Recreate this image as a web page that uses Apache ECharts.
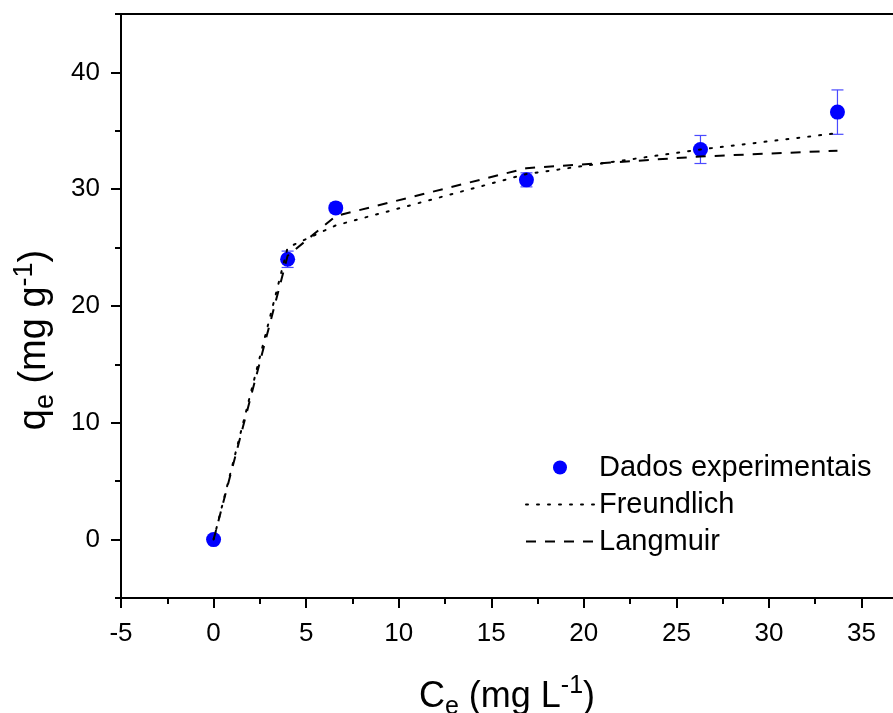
<!DOCTYPE html>
<html>
<head>
<meta charset="utf-8">
<script src="https://cdn.jsdelivr.net/npm/echarts@6/dist/echarts.min.js"></script>
<style>
  html, body { margin: 0; padding: 0; background: #fff; }
  #chart { width: 893px; height: 713px; }
</style>
</head>
<body>
<div id="chart"></div>
<script>
// dados
const ceVals = [0, 4.0, 6.6, 16.9, 26.3, 33.7]
const qeVals = [0, 24.0, 28.4, 30.8, 33.4, 36.6]
const qeErr = [0, 0.7, 0.4, 0.6, 1.2, 1.9]
const freundlich = [0, 25.0, 26.9, 31.3, 33.4, 34.8]
const langmuir = [0, 24.3, 27.7, 31.8, 32.8, 33.3]

const xMajor = [-5, 0, 5, 10, 15, 20, 25, 30, 35]
const xMinor = [-2.5, 2.5, 7.5, 12.5, 17.5, 22.5, 27.5, 32.5]
const yMajor = [0, 10, 20, 30, 40]
const yMinor = [-5, 5, 15, 25, 35, 45]

const FONT = 'Liberation Sans, Arial, sans-serif'
const pts = (xs, ys) => xs.map((x, i) => [x, ys[i]])

// texto com subscrito / sobrescrito
const makeRich = (size) => ({
  a: { fontSize: size, lineHeight: size + 10, verticalAlign: 'middle', fontFamily: FONT, color: '#000' },
  s: { fontSize: Math.round(size * 0.7), lineHeight: 16, verticalAlign: 'bottom', fontFamily: FONT, color: '#000' },
  p: { fontSize: Math.round(size * 0.7), lineHeight: 16, verticalAlign: 'top', fontFamily: FONT, color: '#000' },
})

const axisBase = {
  type: 'value',
  min: -5,
  gridIndex: 0,
  splitLine: { show: false },
}
const lineBlack = { color: '#000', width: 2 }

const dom = document.getElementById('chart')
const chart = echarts.init(dom)

const option = {
  animation: false,
  backgroundColor: '#fff',
  grid: { left: 121, right: 0, top: 14, bottom: 115, containLabel: false, outerBoundsMode: 'none' },
  legend: {
    data: [
      { name: 'Dados experimentais' },
      { name: 'Freundlich', itemStyle: { opacity: 0 } },
      { name: 'Langmuir', itemStyle: { opacity: 0 } },
    ],
    orient: 'vertical',
    left: 520,
    top: 448,
    itemWidth: 68,
    itemHeight: 14,
    itemGap: 8,
    textStyle: { fontSize: 29, fontFamily: FONT, color: '#000' },
  },
  xAxis: [
    {
      ...axisBase,
      max: 36.7,
      position: 'bottom',
      axisLine: { onZero: false, lineStyle: lineBlack },
      axisTick: { customValues: xMajor, length: 10, lineStyle: lineBlack },
      axisLabel: { customValues: xMajor, margin: 23, fontSize: 26, fontFamily: FONT, color: '#000' },
      name: '{a|C}{s|e}{a| (mg L}{p|-1}{a|)}',
      nameLocation: 'middle',
      nameGap: 76,
      nameTextStyle: { rich: makeRich(36) },
    },
    {
      ...axisBase,
      max: 36.7,
      position: 'bottom',
      axisLine: { show: false, onZero: false },
      axisTick: { customValues: xMinor, length: 6, lineStyle: lineBlack },
      axisLabel: { show: false },
    },
    {
      ...axisBase,
      max: 36.7,
      position: 'top',
      axisLine: { onZero: false, lineStyle: lineBlack },
      axisTick: { show: false },
      axisLabel: { show: false },
    },
  ],
  yAxis: [
    {
      ...axisBase,
      max: 45,
      position: 'left',
      axisLine: { onZero: false, lineStyle: lineBlack },
      axisTick: { customValues: yMajor, length: 10, lineStyle: lineBlack },
      axisLabel: { customValues: yMajor, margin: 21, fontSize: 26, fontFamily: FONT, color: '#000' },
      name: '{a|q}{s|e}{a| (mg g}{p|-1}{a|)}',
      nameLocation: 'middle',
      nameRotate: 90,
      nameGap: 62,
      nameTextStyle: { rich: makeRich(38), padding: [0, 68, 0, 0] },
    },
    {
      ...axisBase,
      max: 45,
      position: 'left',
      axisLine: { show: false, onZero: false },
      axisTick: { customValues: yMinor, length: 6, lineStyle: lineBlack },
      axisLabel: { show: false },
    },
  ],
  series: [
    {
      name: 'erro',
      type: 'custom',
      data: ceVals.map((x, i) => [x, qeVals[i], qeErr[i]]),
      encode: { x: 0, y: 1 },
      z: 1,
      renderItem: (params, api) => {
        const x = api.value(0)
        const y = api.value(1)
        const e = api.value(2)
        if (!e) return null
        const top = api.coord([x, y + e])
        const bot = api.coord([x, y - e])
        const hw = 6
        const style = { stroke: '#4a4aff', lineWidth: 1.2 }
        return {
          type: 'group',
          children: [
            { type: 'line', shape: { x1: top[0], y1: top[1], x2: bot[0], y2: bot[1] }, style },
            { type: 'line', shape: { x1: top[0] - hw, y1: top[1], x2: top[0] + hw, y2: top[1] }, style },
            { type: 'line', shape: { x1: bot[0] - hw, y1: bot[1], x2: bot[0] + hw, y2: bot[1] }, style },
          ],
        }
      },
    },
    {
      name: 'Dados experimentais',
      type: 'scatter',
      data: pts(ceVals, qeVals),
      symbol: 'circle',
      symbolSize: 15,
      itemStyle: { color: '#0000ff', opacity: 1 },
      z: 2,
    },
    {
      name: 'Freundlich',
      type: 'line',
      data: pts(ceVals, freundlich),
      showSymbol: false,
      symbol: 'none',
      lineStyle: { color: '#000', width: 2, type: [2, 9], cap: 'round' },
      itemStyle: { color: '#000' },
      z: 3,
    },
    {
      name: 'Langmuir',
      type: 'line',
      data: pts(ceVals, langmuir),
      showSymbol: false,
      symbol: 'none',
      lineStyle: { color: '#000', width: 2, type: [10, 9] },
      itemStyle: { color: '#000' },
      z: 3,
    },
  ],
}

chart.setOption(option)
window.addEventListener('resize', () => chart.resize())
</script>
</body>
</html>
